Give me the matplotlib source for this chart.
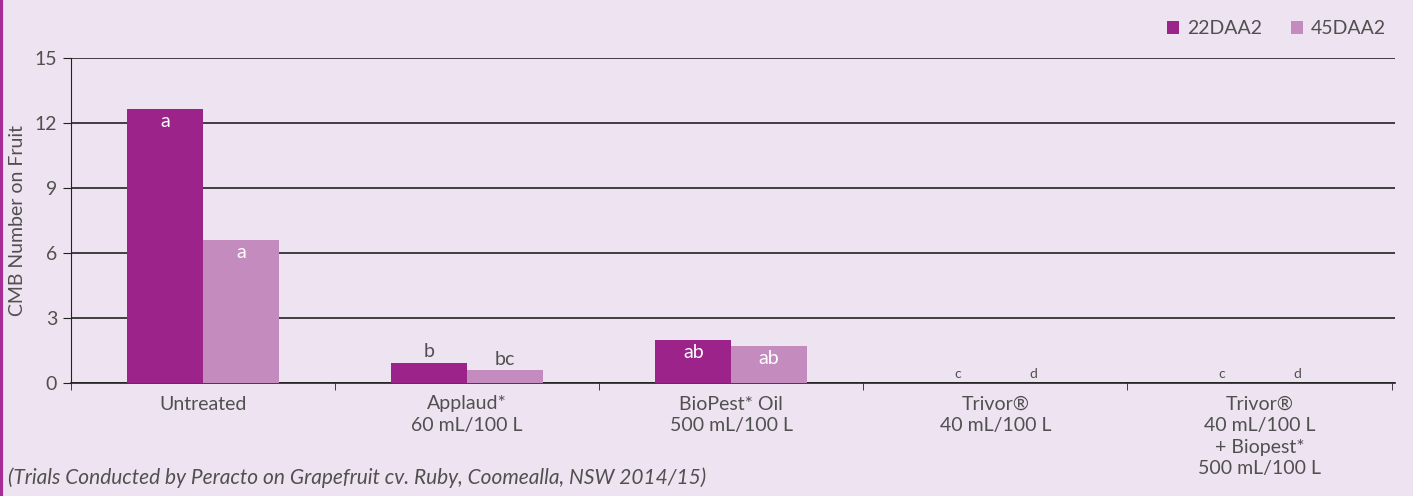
import numpy as np
import matplotlib.pyplot as plt

plt.rcParams['font.family'] = ['Lato', 'DejaVu Sans']

# data
categories = ["Untreated", "Applaud*\n60 mL/100 L", "BioPest* Oil\n500 mL/100 L",
              "Trivor\u00ae\n40 mL/100 L", "Trivor\u00ae\n40 mL/100 L\n+ Biopest*\n500 mL/100 L"]
series_names = ["22DAA2", "45DAA2"]
daa22 = [12.65, 0.94, 2.0, 0.0, 0.0]
daa45 = [6.62, 0.61, 1.72, 0.0, 0.0]
letters22 = ["a", "b", "ab", "c", "c"]
letters45 = ["a", "bc", "ab", "d", "d"]

bg = "#EEE3F0"
c1 = "#9B2389"
c2 = "#C48BBE"
txt = "#505050"
fs = 14

fig = plt.figure(figsize=(14.13, 4.96), dpi=100, facecolor=bg)
ax = fig.add_axes([71 / 1413, 1 - 383 / 496, (1395 - 71) / 1413, (383 - 58) / 496])
ax.set_facecolor(bg)

x = np.arange(len(categories))
w = 0.287
ax.bar(x - w / 2, daa22, w, color=c1, label=series_names[0], zorder=3)
ax.bar(x + w / 2, daa45, w, color=c2, label=series_names[1], zorder=3)

# significance letters
for xs, vals, labs in [(x - w / 2, daa22, letters22), (x + w / 2, daa45, letters45)]:
    for xi, v, lab in zip(xs, vals, labs):
        if v > 1.5:
            ax.text(xi, v - 0.2, lab, ha="center", va="top", color="white", fontsize=fs, zorder=4)
        elif v > 0:
            ax.text(xi, v + 0.1, lab, ha="center", va="bottom", color=txt, fontsize=fs, zorder=4)
        else:
            ax.text(xi, 0.12, lab, ha="center", va="bottom", color=txt, fontsize=10, zorder=4)

ax.set_xlim(-0.5, len(categories) - 0.487)
ax.set_ylim(0, 15)
ax.set_yticks([0, 3, 6, 9, 12, 15])
ax.yaxis.grid(True, color="#222222", linewidth=1.2, zorder=1)
ax.set_axisbelow(True)

ax.set_xticks(x)
ax.set_xticklabels(categories, color=txt, fontsize=fs, linespacing=1.33)
ax.tick_params(axis="x", length=0, pad=9)
ax.set_xticks(np.arange(-0.5, len(categories)), minor=True)
ax.tick_params(axis="x", which="minor", length=5, color="#222222")
ax.tick_params(axis="y", length=6, color="#222222", labelcolor=txt, labelsize=fs, pad=4)

for s in ["top", "right"]:
    ax.spines[s].set_visible(False)
ax.spines["left"].set_color("#222222")
ax.spines["bottom"].set_color("#222222")
ax.spines["bottom"].set_linewidth(1.2)

ax.set_ylabel("CMB Number on Fruit", color=txt, fontsize=fs, labelpad=6)

leg = fig.legend(loc="upper right", bbox_to_anchor=(1403 / 1413, 1 - 3 / 496), ncol=2,
                 frameon=False, fontsize=fs, handlelength=0.6, handleheight=0.6,
                 handletextpad=0.4, columnspacing=1.5)
for t in leg.get_texts():
    t.set_color(txt)

fig.text(8 / 1413, 1 - 484 / 496, "(Trials Conducted by Peracto on Grapefruit cv. Ruby, Coomealla, NSW 2014/15)",
         style="italic", color=txt, fontsize=15, va="baseline")

# purple border on the left edge
fig.add_artist(plt.Line2D([0.001, 0.001], [0, 1], color="#A62D96", linewidth=3, transform=fig.transFigure))

fig.savefig("out.png", dpi=100, facecolor=bg)
